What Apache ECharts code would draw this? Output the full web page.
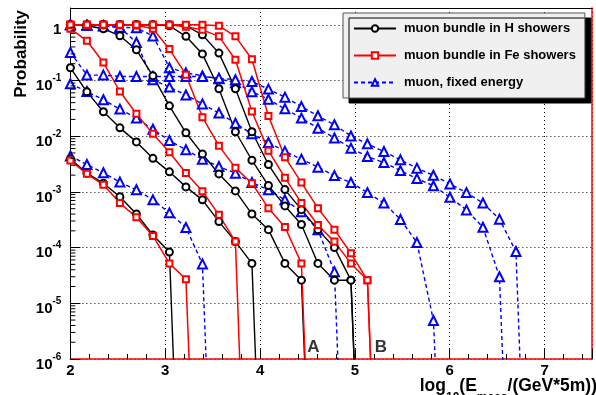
<!DOCTYPE html>
<html><head><meta charset="utf-8">
<script src="https://cdn.jsdelivr.net/npm/echarts@6/dist/echarts.min.js"></script>
<style>html,body{margin:0;padding:0;background:#fff}#c{width:596px;height:395px}</style>
</head><body><div id="c"></div>
<script>
// energy-loss bins, log10(E_meas/(GeV*5m))
const xs = [2.000, 2.174, 2.348, 2.522, 2.696, 2.870, 3.044, 3.218, 3.392, 3.566, 3.740, 3.914, 4.088, 4.262,
            4.436, 4.610, 4.784, 4.958, 5.132, 5.306, 5.480, 5.654, 5.828, 6.002, 6.176, 6.350, 6.524, 6.698, 6.872];

// muon bundle in H showers (black)
const h1 = [3.9e-3, 2.17e-3, 1.43e-3, 8.2e-4, 4.0e-4, 1.69e-4, 8.3e-5, 0];
const h2 = [0.169, 0.0625, 0.0274, 0.0141, 0.0079, 0.0040, 0.00229, 0.00123, 7.2e-4, 2.93e-4, 1.28e-4, 5.2e-5, 0];
const h3 = [1.0, 0.96, 0.85, 0.634, 0.356, 0.121, 0.035, 0.0115, 0.0048, 0.0021, 0.00104, 4.0e-4, 2.1e-4, 5.2e-5, 2.6e-5, 0];
const h4 = [1, 1, 1, 1, 1, 1, 0.96, 0.62, 0.30, 0.071, 0.012, 0.0037, 0.0013, 5.6e-4, 2.6e-4, 5.2e-5, 2.6e-5, 2.6e-5, 0];
const h5 = [1, 1, 1, 1, 1, 1, 1, 0.96, 0.66, 0.31, 0.071, 0.012, 0.0031, 0.0011, 4.8e-4, 2.1e-4, 1.0e-4, 2.6e-5, 0];

// muon bundle in Fe showers (red)
const f1 = [3.65e-3, 2.11e-3, 1.34e-3, 6.3e-4, 3.5e-4, 1.62e-4, 5.2e-5, 2.7e-5, 0];
const f2 = [0.85, 0.516, 0.21, 0.0634, 0.0252, 0.0110, 0.00513, 0.00219, 1.03e-3, 3.87e-4, 1.28e-4, 0];
const f3 = [1, 1, 1, 1, 0.98, 0.85, 0.366, 0.127, 0.0219, 0.0067, 0.0027, 0.00143, 5.1e-4, 2.35e-4, 5.2e-5, 0];
const f4 = [1, 1, 1, 1, 1, 1, 1, 0.92, 0.81, 0.62, 0.235, 0.0278, 0.0055, 0.0018, 6.3e-4, 2.55e-4, 1.28e-4, 5.2e-5, 2.6e-5, 0];
const f5 = [1, 1, 1, 1, 1, 1, 1, 1, 1, 0.96, 0.62, 0.24, 0.023, 0.0042, 0.00147, 5.1e-4, 2.1e-4, 7.9e-5, 2.6e-5, 0];

// muon, fixed energy (blue)
const m1 = [4.4e-3, 3.1e-3, 2.2e-3, 1.5e-3, 1.09e-3, 7.2e-4, 4.2e-4, 2.3e-4, 5.1e-5, 0];
const m2 = [0.087, 0.0634, 0.045, 0.0306, 0.0211, 0.0133, 0.00836, 0.00569, 0.00387, 0.00285, 0.00217, 0.00147,
            0.00109, 7.2e-4, 4.4e-4, 2.08e-4, 3.7e-5, 0];
const m3 = [1, 0.98, 0.96, 0.9, 0.48, 0.103, 0.076, 0.055, 0.038, 0.026, 0.0171, 0.011, 0.0077, 0.00534, 0.00387,
            0.00278, 0.00196, 0.00147, 9.7e-4, 6.3e-4, 3.2e-4, 1.23e-4, 4.9e-6, 0];
const m4 = [1, 0.98, 0.95, 0.9, 0.88, 0.63, 0.17, 0.137, 0.121, 0.107, 0.091, 0.063, 0.046, 0.031, 0.0211, 0.0139,
            0.0093, 0.0061, 0.0043, 0.00336, 0.00241, 0.00173, 0.00129, 8.0e-4, 4.75e-4, 2.32e-4, 3.0e-5, 0];
const m5 = [0.318, 0.125, 0.125, 0.118, 0.118, 0.118, 0.118, 0.118, 0.118, 0.110, 0.103, 0.0957, 0.070, 0.0502,
            0.034, 0.0232, 0.016, 0.0101, 0.00728, 0.0053, 0.00376, 0.00267, 0.00198, 0.00139, 9.7e-4, 6.3e-4,
            3.24e-4, 8.5e-5, 0];

const yTicks = [1, 1e-1, 1e-2, 1e-3, 1e-4, 1e-5, 1e-6];
const yMinorMantissas = [2, 3, 4, 5, 6, 7, 8, 9];
const xTicks = [2, 3, 4, 5, 6, 7];
const annotations = [{ text: 'A', x: 4.562, y: 1.64e-6 }, { text: 'B', x: 5.274, y: 1.64e-6 }];

const NAME_H = 'muon bundle in H showers';
const NAME_FE = 'muon bundle in Fe showers';
const NAME_MU = 'muon, fixed energy';
const FLOOR = 1e-12; // empty bins (0) drawn below the log axis range, clipped
const FONT = 'Liberation Sans';
const X_MIN = 2, X_MAX = 7.5;

function toData(arr) { return arr.map((v, i) => [xs[i], v > 0 ? v : FLOOR]); }

const styleH = { symbol: 'emptyCircle', symbolSize: 7, color: '#000', lineStyle: { color: '#000', width: 1.4 }, itemStyle: { color: '#000', borderWidth: 1 } };
const styleFe = { symbol: 'emptyRect', symbolSize: 6, color: '#ff0000', lineStyle: { color: '#ff0000', width: 1.5 }, itemStyle: { color: '#ff0000', borderWidth: 1 } };
const styleMu = { symbol: 'emptyTriangle', symbolSize: 9, color: '#0000ff', lineStyle: { color: '#0000ff', width: 1.4, type: [4, 3] }, itemStyle: { color: '#0000ff', borderWidth: 1 } };

function mk(name, arr, st) {
  return Object.assign({ type: 'line', name: name, data: toData(arr), clip: true, showSymbol: true, silent: true,
    xAxisIndex: 0, yAxisIndex: 0 }, st);
}

const series = [];
// minor log ticks on the left axis, placed through the axis scale
const yMinor = [];
yTicks.slice(1).forEach(d => yMinorMantissas.forEach(m => yMinor.push(m * d)));
series.push({
  type: 'scatter', name: 'minorTicks', xAxisIndex: 0, yAxisIndex: 0, silent: true, clip: false, z: 10,
  large: false, progressive: 0,
  symbol: 'rect', symbolSize: [5, 1], symbolOffset: [2.5, 0],
  itemStyle: { color: '#000', opacity: 1 },
  data: yMinor.map(v => [X_MIN, v])
});
[m1, m2, m3, m4, m5].forEach(a => series.push(mk(NAME_MU, a, styleMu)));
[h1, h2, h3, h4, h5].forEach(a => series.push(mk(NAME_H, a, styleH)));
[f1, f2, f3, f4, f5].forEach(a => series.push(mk(NAME_FE, a, styleFe)));
series.push({
  type: 'scatter', name: 'labels', xAxisIndex: 0, yAxisIndex: 0, symbolSize: 0, silent: true,
  data: annotations.map(a => [a.x, a.y, a.text]),
  label: { show: true, position: 'inside', formatter: p => p.data[2], fontFamily: FONT, fontWeight: 'bold', fontSize: 17, color: '#000' }
});

const chart = echarts.init(document.getElementById('c'), null, { renderer: 'canvas' });
chart.setOption({
  animation: false,
  backgroundColor: '#fff',
  grid: { left: 70.4, right: 4, top: 8, bottom: 36, containLabel: false },
  xAxis: [
    { type: 'value', min: X_MIN, max: X_MAX, interval: 1, position: 'bottom',
      axisLine: { show: true, onZero: false, lineStyle: { color: '#ff0000', width: 1.5 } },
      axisTick: { show: true, inside: true, length: 10, lineStyle: { color: '#000' } },
      minorTick: { show: true, splitNumber: 5, length: 5, lineStyle: { color: '#000' } },
      splitLine: { show: true, lineStyle: { color: '#000', type: [1, 3], width: 1 } },
      axisLabel: { margin: 4, fontFamily: FONT, fontWeight: 'bold', fontSize: 15, color: '#000', showMaxLabel: false,
        formatter: v => (xTicks.indexOf(v) >= 0 ? String(v) : '') } },
    { type: 'value', min: X_MIN, max: X_MAX, position: 'top',
      axisLine: { show: true, onZero: false, lineStyle: { color: '#000', width: 1 } },
      axisTick: { show: false }, axisLabel: { show: false }, splitLine: { show: false } }
  ],
  yAxis: [
    { type: 'log', logBase: 10, min: 1e-6, max: 2, interval: 1, position: 'left',
      axisLine: { show: true, onZero: false, lineStyle: { color: '#000', width: 1 } },
      axisTick: { show: true, inside: true, length: 10, lineStyle: { color: '#000' } },
      splitLine: { show: true, lineStyle: { color: '#000', type: [1, 3], width: 1 } },
      axisLabel: { margin: 9, showMaxLabel: false,
        formatter: v => {
          const e = Math.round(Math.log10(v));
          if (yTicks.indexOf(Math.pow(10, e)) < 0 || Math.abs(Math.log10(v) - e) > 1e-6) return '';
          return e === 0 ? '{b|1}' : '{b|10}{s|' + e + '}';
        },
        rich: {
          b: { fontFamily: FONT, fontWeight: 'bold', fontSize: 15, color: '#000', lineHeight: 16, padding: [6, 0, 0, 0], verticalAlign: 'top' },
          s: { fontFamily: FONT, fontWeight: 'bold', fontSize: 10, color: '#000', lineHeight: 12, padding: [1, 0, 0, 0], verticalAlign: 'top' }
        } } },
    { type: 'value', min: 0, max: 1, position: 'right',
      axisLine: { show: true, onZero: false, lineStyle: { color: '#ff0000', width: 1.5 } },
      axisTick: { show: false }, axisLabel: { show: false }, splitLine: { show: false } }
  ],
  legend: {
    orient: 'vertical', left: 343, top: 13,
    data: [NAME_H, NAME_FE, NAME_MU],
    backgroundColor: '#f0f0f0', borderColor: '#555', borderWidth: 1, borderRadius: 0,
    padding: [8, 9, 8, 10], itemWidth: 42, itemHeight: 8, itemGap: 12,
    shadowColor: '#000', shadowBlur: 0, shadowOffsetX: 6, shadowOffsetY: 5,
    selectedMode: false,
    textStyle: { fontFamily: FONT, fontWeight: 'bold', fontSize: 13, color: '#000', lineHeight: 15, padding: [0, 0, 0, 3] }
  },
  graphic: [
    { type: 'text', x: 21, y: 10, rotation: Math.PI / 2, silent: true,
      style: { text: 'Probability', font: 'bold 17px "Liberation Sans"', fill: '#000', align: 'right', verticalAlign: 'middle' } },
    { type: 'text', x: 597, y: 377, silent: true,
      style: { text: '{m|log}{u|10}{m|(E}{u|meas}{m|/(GeV*5m))}', align: 'right', verticalAlign: 'top',
        rich: {
          m: { fontFamily: FONT, fontWeight: 'bold', fontSize: 17.5, fill: '#000', lineHeight: 18, verticalAlign: 'top' },
          u: { fontFamily: FONT, fontWeight: 'bold', fontSize: 12, fill: '#000', lineHeight: 12, padding: [15, 0, 0, 0], verticalAlign: 'top' }
        } } }
  ],
  series: series
});
</script>
</body></html>
